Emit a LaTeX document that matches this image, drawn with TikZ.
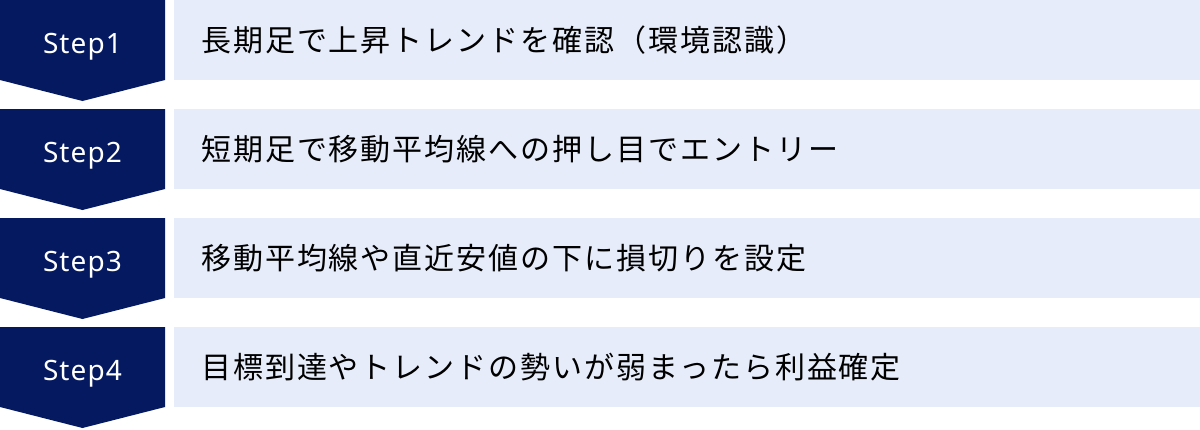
\documentclass[tikz,border=0pt]{standalone}
\usepackage{fontspec}
\setmainfont{Noto Sans CJK JP}[LetterSpace=6.5]
\newfontfamily\stepfont{Noto Sans}[LetterSpace=4]
\definecolor{stepnavy}{HTML}{051961}
\definecolor{rowblue}{HTML}{E6ECF9}

\begin{document}
\begin{tikzpicture}[x=1pt, y=-1pt,
    steptext/.style={text=white, inner sep=0pt, anchor=base, font=\stepfont\fontsize{28}{32}\selectfont},
    desctext/.style={anchor=west, inner sep=0pt, font=\fontsize{30}{36}\selectfont}]
	\useasboundingbox (0,0) rectangle (1200,429);
	
	% One row per step: navy arrow, light box, texts
	\foreach \i/\txt in {1/長期足で上昇トレンドを確認（環境認識）,
		2/短期足で移動平均線への押し目でエントリー,
		3/移動平均線や直近安値の下に損切りを設定,
		4/目標到達やトレンドの勢いが弱まったら利益確定}
	{
		\pgfmathsetmacro\rowtop{(\i-1)*109}
		% navy arrow
		\fill[stepnavy] (0,\rowtop) -- (165,\rowtop) -- (165,\rowtop+80)
			-- (82.5,\rowtop+101) -- (0,\rowtop+80) -- cycle;
		% light box
		\fill[rowblue] (174,\rowtop) rectangle (1200,\rowtop+80);
		
		\node[steptext] (step\i) at (82.5,\rowtop+53) {Step\i};
		\node[desctext] (desc\i) at (201,\rowtop+40) {\txt};
	}
\end{tikzpicture}
\end{document}
